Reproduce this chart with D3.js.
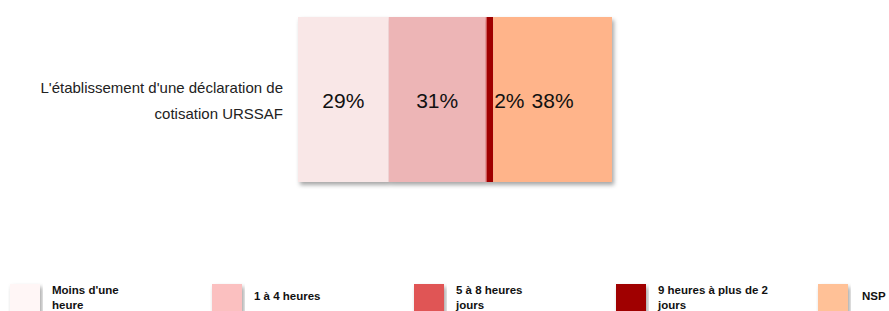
<!DOCTYPE html>
<html>
<head>
<meta charset="utf-8">
<title>Déclaration URSSAF</title>
<style>
  body { margin: 0; background: #fff; }
  text { font-family: "Liberation Sans", Arial, sans-serif; }
</style>
</head>
<body>
<script src="https://cdn.jsdelivr.net/npm/d3@7/dist/d3.min.js"></script>
<script>
var width = 889, height = 311;

// data
var categories = ["L'établissement d'une déclaration de cotisation URSSAF"];
var categoryLines = [["L'établissement d'une déclaration de", "cotisation URSSAF"]];
var series = ["Moins d'une heure", "1 à 4 heures", "5 à 8 heures jours", "9 heures à plus de 2 jours", "NSP"];
var legendLines = [["Moins d'une", "heure"], ["1 à 4 heures"], ["5 à 8 heures", "jours"], ["9 heures à plus de 2", "jours"], ["NSP"]];
var values = [29, 31, 0.4, 2, 38];
var barColors = ["#f9e7e7", "#edb5b6", "#d85a5a", "#a00000", "#ffb48a"];
var legendColors = ["#fff6f6", "#fbc0c0", "#e05555", "#a00000", "#ffc197"];

var svg = d3.select("body").append("svg")
    .attr("width", width).attr("height", height);

var defs = svg.append("defs");
var f = defs.append("filter").attr("id", "shadow")
    .attr("x", "-5%").attr("y", "-5%").attr("width", "115%").attr("height", "120%");
f.append("feDropShadow").attr("dx", 2).attr("dy", 3).attr("stdDeviation", 2)
    .attr("flood-color", "#000").attr("flood-opacity", 0.35);

var total = d3.sum(values);
var x = d3.scaleLinear().domain([0, total]).range([298, 612]);
var y = d3.scaleBand().domain(categories).range([17, 182]).padding(0);

// stacked segments
var stack = [];
var acc = 0;
values.forEach(function(v, i) {
  stack.push({ name: series[i], v: v, x0: acc, x1: acc + v, i: i });
  acc += v;
});

var bar = svg.append("g").attr("filter", "url(#shadow)");
bar.selectAll("rect").data(stack).enter().append("rect")
    .attr("x", function(d) { return x(d.x0); })
    .attr("y", y(categories[0]))
    .attr("width", function(d) { return x(d.x1) - x(d.x0); })
    .attr("height", y.bandwidth())
    .attr("fill", function(d) { return barColors[d.i]; });

// value labels
svg.selectAll("text.val").data(stack.filter(function(d) { return d.v >= 1; }))
  .enter().append("text").attr("class", "val")
    .attr("x", function(d) { return d.v < 5 ? x(d.x1) + 1 : (x(d.x0) + x(d.x1)) / 2; })
    .attr("y", y(categories[0]) + y.bandwidth() / 2 + 8)
    .attr("text-anchor", function(d) { return d.v < 5 ? "start" : "middle"; })
    .attr("font-size", "21px")
    .attr("fill", "#111")
    .text(function(d) { return Math.round(d.v) + "%"; });

// category label
var cat = svg.append("text")
    .attr("text-anchor", "end")
    .attr("font-size", "15px")
    .attr("fill", "#222");
categoryLines[0].forEach(function(l, i) {
  cat.append("tspan").attr("x", 283).attr("y", 93 + i * 26).text(l);
});

// legend
var lg = svg.selectAll("g.leg").data(series).enter().append("g").attr("class", "leg")
    .attr("transform", function(d, i) { return "translate(" + (10 + i * 202) + ",284)"; });
lg.append("rect").attr("width", 30).attr("height", 30)
    .attr("fill", function(d, i) { return legendColors[i]; })
    .attr("filter", "url(#shadow)");
lg.each(function(d, i) {
  var t = d3.select(this).append("text")
    .attr("font-size", "11.5px").attr("font-weight", "bold").attr("fill", "#111");
  var lines = legendLines[i];
  lines.forEach(function(l, j) {
    t.append("tspan").attr("x", i === 4 ? 44 : 42)
      .attr("y", lines.length === 1 ? 16 : 10 + j * 15).text(l);
  });
});
</script>
</body>
</html>
